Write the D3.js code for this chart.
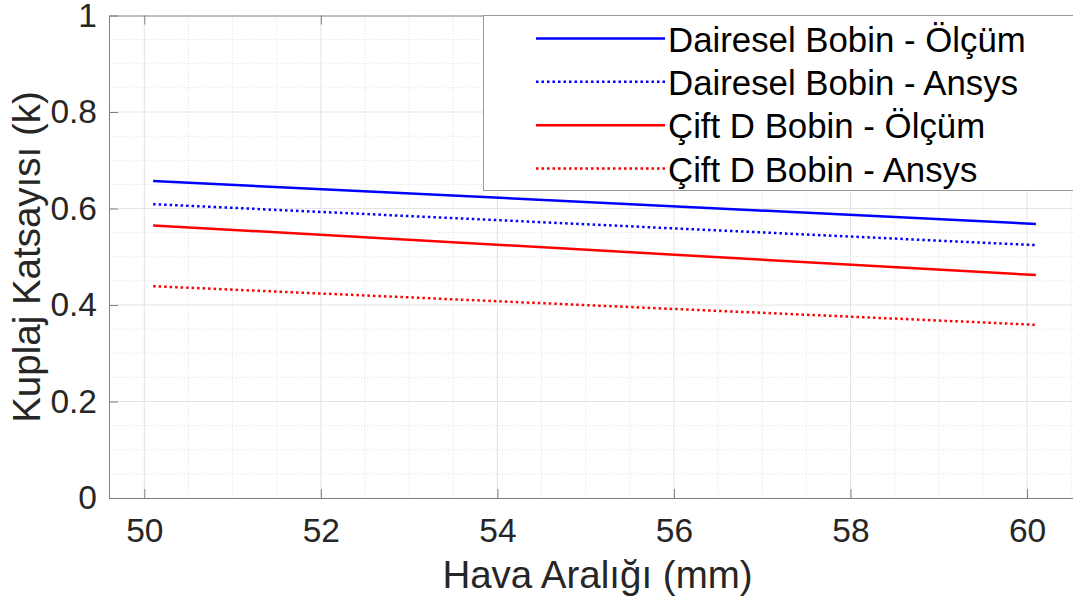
<!DOCTYPE html>
<html>
<head>
<meta charset="utf-8">
<script src="https://cdnjs.cloudflare.com/ajax/libs/d3/7.8.5/d3.min.js"></script>
<style>
  body { margin: 0; background: #fff; }
  svg { display: block; font-family: "Liberation Sans", Arial, sans-serif; }
  .gridMajor line { stroke: #e3e3e3; stroke-width: 1; }
  .gridMinor line { stroke: #dedede; stroke-width: 1; stroke-dasharray: 1,2; }
  .axis path, .axis line { stroke: #808080; }
  .axis text { fill: #262626; font-size: 33.5px; }
  .label { fill: #262626; font-size: 38.5px; }
  .legendText { fill: #000; font-size: 34.8px; }
</style>
</head>
<body>
<script>
//series names and values
var seriesNames = ["Dairesel Bobin - Ölçüm", "Dairesel Bobin - Ansys", "Çift D Bobin - Ölçüm", "Çift D Bobin - Ansys"];
var seriesColors = ["#0000ff", "#0000ff", "#ff0000", "#ff0000"];
var seriesDashed = [false, true, false, true];
var gapValues = [50.1, 60.1]; //hava araligi (mm)
var daireselOlcum = [0.657, 0.568];
var daireselAnsys = [0.609, 0.524];
var ciftDOlcum = [0.565, 0.462];
var ciftDAnsys = [0.439, 0.359];
var xTicks = [50, 52, 54, 56, 58, 60];
var yTicks = [0, 0.2, 0.4, 0.6, 0.8, 1];

(function(){
    var seriesValues = [daireselOlcum, daireselAnsys, ciftDOlcum, ciftDAnsys];

    var width = 1073, height = 603;
    var plotLeft = 109, plotRight = 1080, plotTop = 15.5, plotBottom = 498;

    var svg = d3.select("body").append("svg")
        .attr("width", width)
        .attr("height", height);

    var x = d3.scaleLinear().domain([49.6, 60.6]).range([plotLeft, plotRight]);
    var y = d3.scaleLinear().domain([0, 1]).range([plotBottom, plotTop]);

    //minor grid every 0.5 mm and 0.05
    var xMinor = d3.range(49.5, 61, 0.5).filter(function(v){ return v > 49.6 && xTicks.indexOf(v) < 0; });
    var yMinor = d3.range(0.05, 1, 0.05).filter(function(v){ return Math.abs(v * 5 - Math.round(v * 5)) > 0.01; });

    var gMinor = svg.append("g").attr("class", "gridMinor");
    gMinor.selectAll(".vx").data(xMinor).enter().append("line")
        .attr("x1", function(d){ return x(d); }).attr("x2", function(d){ return x(d); })
        .attr("y1", plotTop).attr("y2", plotBottom);
    gMinor.selectAll(".hy").data(yMinor).enter().append("line")
        .attr("x1", plotLeft).attr("x2", plotRight)
        .attr("y1", function(d){ return y(d); }).attr("y2", function(d){ return y(d); });

    //major grid
    var gMajor = svg.append("g").attr("class", "gridMajor");
    gMajor.selectAll(".vx").data(xTicks).enter().append("line")
        .attr("x1", function(d){ return x(d); }).attr("x2", function(d){ return x(d); })
        .attr("y1", plotTop).attr("y2", plotBottom);
    gMajor.selectAll(".hy").data(yTicks.slice(1, -1)).enter().append("line")
        .attr("x1", plotLeft).attr("x2", plotRight)
        .attr("y1", function(d){ return y(d); }).attr("y2", function(d){ return y(d); });

    //axes (ticks pointing inward, mirrored on top)
    svg.append("g").attr("class", "axis")
        .attr("transform", "translate(0," + plotBottom + ")")
        .call(d3.axisBottom(x).tickValues(xTicks).tickSizeInner(-9).tickSizeOuter(0).tickPadding(20).tickFormat(d3.format("d")));

    svg.append("g").attr("class", "axis")
        .attr("transform", "translate(0," + plotTop + ")")
        .call(d3.axisTop(x).tickValues(xTicks).tickSizeInner(-9).tickSizeOuter(0).tickFormat(""));

    svg.append("g").attr("class", "axis")
        .attr("transform", "translate(" + plotLeft + ",0)")
        .call(d3.axisLeft(y).tickValues(yTicks).tickSizeInner(-9).tickSizeOuter(0).tickPadding(12)
            .tickFormat(function(d){ return d === 0 || d === 1 ? d3.format("d")(d) : d3.format(".1f")(d); }));

    //series lines
    var line = d3.line()
        .x(function(d){ return x(d[0]); })
        .y(function(d){ return y(d[1]); });

    seriesValues.forEach(function(vals, i){
        svg.append("path")
            .datum(d3.zip(gapValues, vals))
            .attr("d", line)
            .attr("fill", "none")
            .attr("stroke", seriesColors[i])
            .attr("stroke-width", 2.5)
            .attr("stroke-dasharray", seriesDashed[i] ? "2.5,3" : null);
    });

    //legend
    var legend = svg.append("g").attr("class", "legend");
    legend.append("rect")
        .attr("x", 483.5).attr("y", plotTop)
        .attr("width", 700).attr("height", 175)
        .attr("fill", "#fff").attr("stroke", "#9a9a9a").attr("stroke-width", 1);

    var rowY = d3.scalePoint().domain(d3.range(seriesNames.length)).range([38.5, 168.5]);
    seriesNames.forEach(function(name, i){
        legend.append("line")
            .attr("x1", 536).attr("x2", 665)
            .attr("y1", rowY(i)).attr("y2", rowY(i))
            .attr("stroke", seriesColors[i])
            .attr("stroke-width", 2.5)
            .attr("stroke-dasharray", seriesDashed[i] ? "2.5,3" : null);
        legend.append("text")
            .attr("class", "legendText")
            .attr("x", 668).attr("y", rowY(i) + 13)
            .text(name);
    });

    //axis labels
    svg.append("text").attr("class", "label")
        .attr("x", (445 + 750) / 2).attr("y", 588)
        .attr("text-anchor", "middle")
        .text("Hava Aralığı (mm)");

    svg.append("text").attr("class", "label")
        .attr("transform", "translate(40,257) rotate(-90)")
        .attr("text-anchor", "middle")
        .text("Kuplaj Katsayısı (k)");
})();
</script>
</body>
</html>
